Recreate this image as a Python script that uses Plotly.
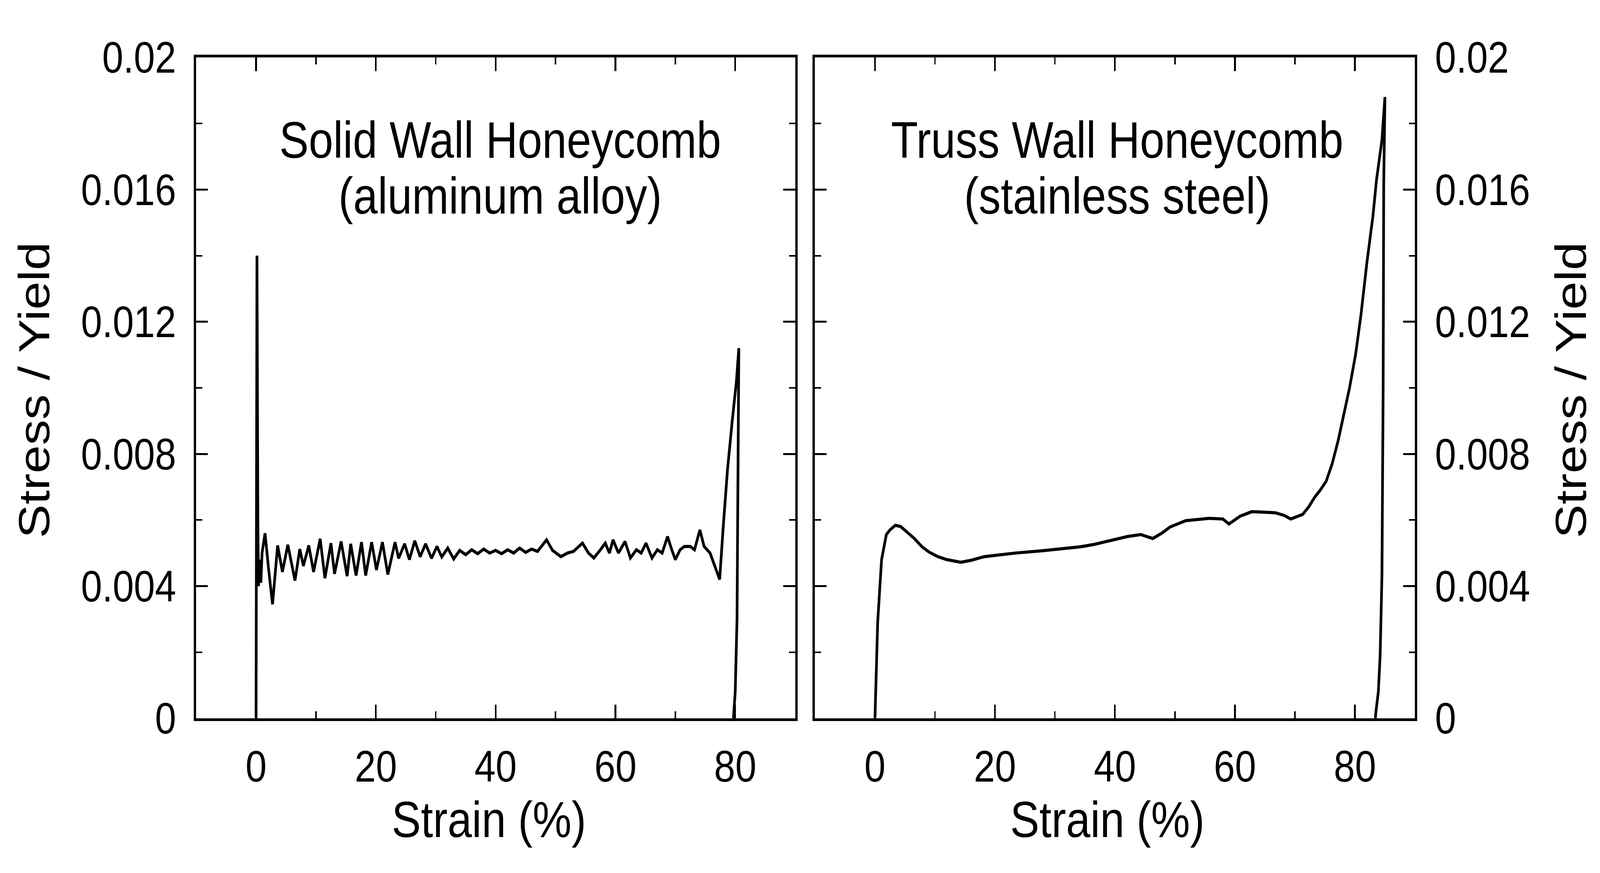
import plotly.graph_objects as go

W, H = 4755, 2235

# ---------------- data ----------------
solid_strain = [0.0, 0.15, 0.3, 0.4, 0.6, 0.8, 1.0, 1.5, 2.1, 2.75, 3.6, 4.4, 5.3, 6.5, 7.3, 7.9,
                8.8, 9.6, 10.7, 11.5, 12.5, 13.1, 14.2, 15.2, 15.8, 16.7, 17.6, 18.3, 19.3, 20.1,
                21.1, 22.0, 23.2, 23.8, 24.8, 25.6, 26.5, 27.4, 28.3, 29.3, 30.2, 31.0, 32.0, 33.0,
                34.0, 35.0, 36.0, 37.0, 38.0, 39.0, 40.0, 41.0, 42.0, 43.0, 44.0, 45.0, 46.0, 47.0,
                48.5, 49.5, 50.9, 52.0, 53.0, 54.5, 55.5, 56.4, 57.5, 58.3, 59.0, 59.6, 60.5, 61.6,
                62.5, 63.5, 64.3, 65.1, 66.1, 67.0, 67.8, 68.7, 69.4, 70.0, 70.8, 71.5, 72.5, 73.2,
                74.1, 74.8, 75.8, 76.6, 77.4, 78.0, 78.7, 79.5, 80.2, 80.6, 80.5, 80.3, 80.0, 79.7]
solid_stress = [0.0, 0.0140, 0.0060, 0.0040, 0.0048, 0.0041, 0.0050, 0.0056, 0.0045, 0.00345, 0.00523,
                0.00443, 0.00525, 0.00417, 0.00512, 0.00461, 0.00523, 0.00443, 0.00543, 0.00424,
                0.0053, 0.00437, 0.00535, 0.0043, 0.00528, 0.00432, 0.00533, 0.00432, 0.00533,
                0.00449, 0.00533, 0.00435, 0.00533, 0.00484, 0.00528, 0.0048, 0.00537, 0.00489,
                0.00528, 0.00484, 0.0052, 0.00488, 0.00515, 0.00482, 0.00508, 0.00495, 0.0051,
                0.00498, 0.00512, 0.005, 0.00508, 0.00498, 0.0051, 0.005, 0.00515, 0.00502, 0.00512,
                0.00505, 0.0054, 0.00508, 0.00489, 0.0050, 0.00505, 0.0053, 0.0050, 0.00485, 0.0051,
                0.0053, 0.0050, 0.0054, 0.0050, 0.00535, 0.00485, 0.0051, 0.0050, 0.0053, 0.00485,
                0.0051, 0.0050, 0.0055, 0.0051, 0.0048, 0.0051, 0.0052, 0.0052, 0.0051, 0.0057,
                0.0052, 0.0050, 0.0046, 0.0042, 0.0058, 0.0075, 0.0090, 0.0102, 0.0112, 0.0070,
                0.0030, 0.0008, 0.0]

truss_strain = [0.0, 0.45, 1.1, 1.9, 2.5, 3.4, 4.3, 5.3, 6.5, 7.9, 9.0, 10.5, 12.0, 14.3, 16.0,
                18.2, 20.5, 23.4, 27.9, 31.0, 34.3, 36.5, 38.9, 42.1, 44.3, 46.3, 47.8, 49.2, 51.8,
                53.5, 55.7, 58.0, 59.0, 60.9, 62.8, 64.5, 66.7, 68.2, 69.3, 71.3, 72.3, 73.3, 74.2,
                75.2, 76.2, 77.2, 78.2, 79.1, 80.1, 81.0, 82.0, 83.0, 83.6, 84.5, 85.0, 84.8, 84.7,
                84.5, 84.2, 83.9, 83.5, 83.4]
truss_stress = [0.0, 0.0029, 0.0048, 0.00556, 0.0057, 0.00584, 0.0058, 0.00565, 0.00545, 0.00518,
                0.00503, 0.00489, 0.0048, 0.00472, 0.00478, 0.00489, 0.00494, 0.005, 0.00507, 0.00512,
                0.00519, 0.00526, 0.00536, 0.0055, 0.00556, 0.00544, 0.0056, 0.00579, 0.00598,
                0.00602, 0.00605, 0.00603, 0.00588, 0.00612, 0.00625, 0.00624, 0.00622, 0.00614,
                0.00603, 0.00617, 0.0064, 0.00669, 0.0069, 0.00717, 0.0077, 0.0084, 0.0092, 0.0100,
                0.0110, 0.0122, 0.0138, 0.0152, 0.0163, 0.0175, 0.0188, 0.0162, 0.0099, 0.0043,
                0.0019, 0.0008, 0.0002, 0.0]

x_tick_vals = [0, 20, 40, 60, 80]
x_tick_text = ["0", "20", "40", "60", "80"]
y_tick_vals = [0, 0.004, 0.008, 0.012, 0.016, 0.02]
y_tick_text = ["0", "0.004", "0.008", "0.012", "0.016", "0.02"]

panel_titles = [("Solid Wall Honeycomb", "(aluminum alloy)"),
                ("Truss Wall Honeycomb", "(stainless steel)")]
x_title = "Strain (%)"
y_title = "Stress / Yield"

# ---------------- figure ----------------
FONT = "Liberation Sans, Arial, Helvetica, sans-serif"
fig = go.Figure()
fig.add_trace(go.Scatter(x=solid_strain, y=solid_stress, mode="lines",
                         line=dict(color="black", width=8), xaxis="x", yaxis="y",
                         showlegend=False))
fig.add_trace(go.Scatter(x=truss_strain, y=truss_stress, mode="lines",
                         line=dict(color="black", width=8), xaxis="x2", yaxis="y2",
                         showlegend=False))

# pixel geometry of plot frames
L1, R1 = 583, 2363
L2, R2 = 2422, 4205
TOP, BOT = 90, 1883

def px(x):
    return x / W

def py(y):
    return 1 - y / H

common_x = dict(range=[-10, 90], tickmode="array", tickvals=x_tick_vals, ticktext=x_tick_text,
                ticks="inside", ticklen=35, tickwidth=5, tickcolor="black",
                showline=True, linewidth=7, linecolor="black", mirror="allticks",
                showgrid=False, zeroline=False,
                tickfont=dict(family=FONT, size=113, color="black"),
                ticklabelstandoff=20,
                minor=dict(ticks="inside", ticklen=18, tickwidth=4, tickcolor="black",
                           tick0=0, dtick=10, showgrid=False))
common_y = dict(range=[0, 0.02], tickmode="array", tickvals=y_tick_vals, ticktext=y_tick_text,
                ticks="inside", ticklen=35, tickwidth=5, tickcolor="black",
                showline=True, linewidth=7, linecolor="black", mirror="allticks",
                showgrid=False, zeroline=False,
                tickfont=dict(family=FONT, size=113, color="black"),
                ticklabelstandoff=30,
                minor=dict(ticks="inside", ticklen=18, tickwidth=4, tickcolor="black",
                           tick0=0, dtick=0.002, showgrid=False))

fig.update_layout(
    width=W, height=H,
    margin=dict(l=0, r=0, t=0, b=0),
    paper_bgcolor="white", plot_bgcolor="white",
    xaxis=dict(domain=[px(L1), px(R1)], anchor="y", **common_x),
    yaxis=dict(domain=[py(BOT), py(TOP)], anchor="x", side="left", **common_y),
    xaxis2=dict(domain=[px(L2), px(R2)], anchor="y2", **common_x),
    yaxis2=dict(domain=[py(BOT), py(TOP)], anchor="x2", side="right", **common_y),
    showlegend=False,
)

ann = []
title_font = dict(family=FONT, size=131, color="black")
for (l1, l2), cx in zip(panel_titles, [1486, 3320]):
    ann.append(dict(text=l1, x=px(cx), y=py(314), xref="paper", yref="paper",
                    xanchor="center", yanchor="middle", showarrow=False, font=title_font))
    ann.append(dict(text=l2, x=px(cx), y=py(466), xref="paper", yref="paper",
                    xanchor="center", yanchor="middle", showarrow=False, font=title_font))
for cx in [1453, 3291]:
    ann.append(dict(text=x_title, x=px(cx), y=py(2158), xref="paper", yref="paper",
                    xanchor="center", yanchor="middle", showarrow=False,
                    font=dict(family=FONT, size=130, color="black")))
for cx in [101, 4668]:
    ann.append(dict(text=y_title, x=px(cx), y=py(993), xref="paper", yref="paper",
                    xanchor="center", yanchor="middle", showarrow=False, textangle=-90,
                    font=dict(family=FONT, size=130, color="black")))
fig.update_layout(annotations=ann)

# map the fixed 4755x2235 design onto the browser viewport
fit_script = """
(function(){
  var gd = document.getElementById('{plot_id}');
  document.documentElement.style.margin = '0';
  document.documentElement.style.overflow = 'hidden';
  document.body.style.margin = '0';
  document.body.style.overflow = 'hidden';
  function fit(){
    var sx = window.innerWidth / 4755;
    var sy = window.innerHeight / 2235;
    gd.style.transformOrigin = '0 0';
    gd.style.transform = 'scale(' + sx + ',' + sy + ')';
  }
  fit();
  window.addEventListener('resize', fit);
})();
"""

fig.write_html("out.html", post_script=fit_script, config={"displayModeBar": False})
